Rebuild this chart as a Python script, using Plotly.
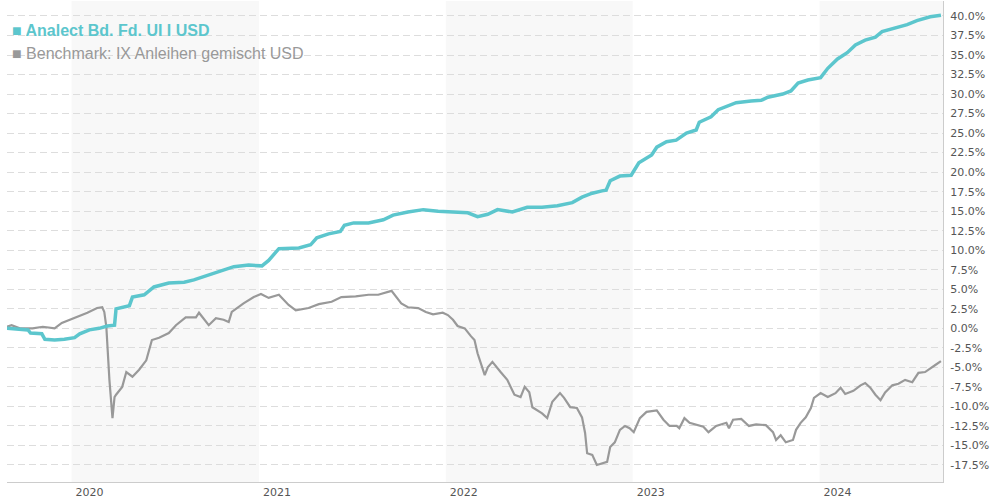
import plotly.graph_objects as go

# ---------------- data ----------------
fund_name = "Analect Bd. Fd. UI I USD"
bench_name = "Benchmark: IX Anleihen gemischt USD"

fund_dates = [
    "2019-08-28", "2019-09-22", "2019-10-08", "2019-10-13", "2019-11-04", "2019-11-10",
    "2019-11-29", "2019-12-18", "2020-01-07", "2020-01-17", "2020-02-05", "2020-02-24",
    "2020-03-11", "2020-03-25", "2020-03-28", "2020-04-23", "2020-04-29", "2020-05-22",
    "2020-06-10", "2020-07-09", "2020-08-08", "2020-08-27", "2020-09-15", "2020-10-09",
    "2020-11-13", "2020-12-12", "2021-01-07", "2021-01-20", "2021-02-09", "2021-03-20",
    "2021-04-12", "2021-04-24", "2021-05-17", "2021-06-09", "2021-06-17", "2021-07-05",
    "2021-08-03", "2021-09-01", "2021-09-20", "2021-10-19", "2021-11-18", "2021-12-17",
    "2022-01-15", "2022-02-13", "2022-03-04", "2022-03-24", "2022-04-12", "2022-05-11",
    "2022-06-09", "2022-07-08", "2022-08-07", "2022-09-05", "2022-09-24", "2022-10-14",
    "2022-11-02", "2022-11-10", "2022-11-18", "2022-12-07", "2022-12-29", "2023-01-13",
    "2023-02-07", "2023-02-17", "2023-03-08", "2023-03-27", "2023-04-16", "2023-05-05",
    "2023-05-11", "2023-06-03", "2023-06-17", "2023-07-08", "2023-07-22", "2023-08-20",
    "2023-09-09", "2023-09-22", "2023-10-21", "2023-11-06", "2023-11-20", "2023-12-09",
    "2024-01-03", "2024-01-17", "2024-02-05", "2024-02-24", "2024-03-11", "2024-03-30",
    "2024-04-19", "2024-05-02", "2024-05-28", "2024-06-20", "2024-07-09", "2024-08-04",
    "2024-08-25",
]
fund_values = [
    0.0, -0.1, -0.2, -0.6, -0.7, -1.4,
    -1.5, -1.4, -1.2, -0.7, -0.2, 0.0,
    0.3, 0.4, 2.5, 2.9, 4.0, 4.3,
    5.3, 5.8, 5.9, 6.2, 6.6, 7.2,
    7.9, 8.1, 8.0, 8.7, 10.2, 10.3,
    10.7, 11.6, 12.1, 12.4, 13.2, 13.5,
    13.5, 13.9, 14.5, 14.9, 15.2, 15.0,
    14.9, 14.8, 14.3, 14.6, 15.2, 14.9,
    15.5, 15.5, 15.7, 16.1, 16.8, 17.3,
    17.6, 17.7, 18.9, 19.5, 19.6, 21.2,
    22.2, 23.2, 23.9, 24.1, 25.0, 25.4,
    26.4, 27.1, 28.0, 28.5, 28.9, 29.1,
    29.2, 29.6, 30.0, 30.4, 31.4, 31.8,
    32.1, 33.3, 34.5, 35.3, 36.3, 36.9,
    37.3, 38.0, 38.5, 38.9, 39.4, 39.9,
    40.1,
]

bench_dates = [
    "2019-08-28", "2019-09-06", "2019-09-22", "2019-10-17", "2019-11-06", "2019-11-29",
    "2019-12-13", "2020-01-07", "2020-02-01", "2020-02-20", "2020-03-01", "2020-03-05",
    "2020-03-09", "2020-03-15", "2020-03-21", "2020-03-25", "2020-03-28", "2020-04-09",
    "2020-04-17", "2020-04-29", "2020-05-12", "2020-05-26", "2020-06-06", "2020-06-20",
    "2020-07-09", "2020-07-23", "2020-08-11", "2020-08-31", "2020-09-06", "2020-09-25",
    "2020-10-09", "2020-10-24", "2020-11-03", "2020-11-09", "2020-12-02", "2020-12-22",
    "2021-01-05", "2021-01-20", "2021-02-09", "2021-02-28", "2021-03-14", "2021-04-08",
    "2021-04-28", "2021-05-23", "2021-06-11", "2021-07-09", "2021-08-03", "2021-08-22",
    "2021-09-17", "2021-10-06", "2021-10-19", "2021-11-08", "2021-11-23", "2021-12-07",
    "2021-12-26", "2022-01-05", "2022-01-15", "2022-01-24", "2022-02-07", "2022-02-19",
    "2022-02-26", "2022-03-04", "2022-03-14", "2022-03-18", "2022-03-24", "2022-04-02",
    "2022-04-18", "2022-05-01", "2022-05-15", "2022-05-27", "2022-06-04", "2022-06-13",
    "2022-06-19", "2022-07-08", "2022-07-18", "2022-07-28", "2022-08-12", "2022-08-20",
    "2022-09-01", "2022-09-14", "2022-09-24", "2022-09-30", "2022-10-04", "2022-10-14",
    "2022-10-23", "2022-11-02", "2022-11-12", "2022-11-18", "2022-11-27", "2022-12-07",
    "2022-12-17", "2022-12-26", "2023-01-03", "2023-01-15", "2023-01-28", "2023-02-17",
    "2023-03-02", "2023-03-14", "2023-03-28", "2023-04-02", "2023-04-12", "2023-04-22",
    "2023-05-05", "2023-05-19", "2023-05-29", "2023-06-13", "2023-07-03", "2023-07-08",
    "2023-07-16", "2023-08-01", "2023-08-16", "2023-08-30", "2023-09-18", "2023-10-02",
    "2023-10-08", "2023-10-17", "2023-10-27", "2023-11-10", "2023-11-16", "2023-11-25",
    "2023-12-05", "2023-12-15", "2023-12-21", "2024-01-03", "2024-01-17", "2024-02-01",
    "2024-02-11", "2024-02-20", "2024-03-07", "2024-03-21", "2024-03-30", "2024-04-09",
    "2024-04-19", "2024-04-29", "2024-05-08", "2024-05-22", "2024-06-03", "2024-06-16",
    "2024-06-30", "2024-07-12", "2024-07-25", "2024-08-04", "2024-08-14", "2024-08-25",
]
bench_values = [
    0.2, 0.4, 0.0, 0.0, 0.2, 0.0,
    0.7, 1.3, 2.0, 2.6, 2.7, 2.1,
    0.2, -6.6, -11.5, -8.8, -8.5, -7.5,
    -5.6, -6.2, -5.3, -4.1, -1.5, -1.2,
    -0.6, 0.4, 1.4, 1.4, 2.0, 0.4,
    1.3, 1.1, 0.8, 2.1, 3.2, 4.0,
    4.4, 3.9, 4.3, 3.0, 2.3, 2.6,
    3.1, 3.4, 4.0, 4.1, 4.3, 4.3,
    4.8, 3.2, 2.7, 2.6, 2.1, 1.8,
    2.0, 1.7, 1.1, 0.3, 0.0, -1.0,
    -1.5, -3.2, -5.1, -6.0, -5.0, -4.3,
    -5.6, -6.6, -8.5, -8.8, -7.5, -8.2,
    -10.1, -10.9, -11.5, -9.4, -8.3, -8.9,
    -10.1, -10.2, -11.4, -13.4, -16.0, -16.2,
    -17.5, -17.3, -17.1, -15.2, -14.6, -13.0,
    -12.5, -12.8, -13.3, -11.5, -10.7, -10.5,
    -11.7, -12.5, -12.5, -12.8, -11.5, -12.1,
    -12.3, -12.6, -13.3, -12.5, -12.1, -12.8,
    -11.7, -11.6, -12.5, -12.3, -12.4, -13.3,
    -14.3, -13.7, -14.6, -14.3, -13.0, -12.1,
    -11.4, -10.2, -8.9, -8.3, -8.8, -8.3,
    -7.6, -8.4, -8.0, -7.3, -7.0, -7.6,
    -8.5, -9.2, -8.2, -7.3, -7.1, -6.6,
    -6.9, -5.7, -5.6, -5.2, -4.7, -4.2,
]

year_ticks = ["2020-01-01", "2021-01-01", "2022-01-01", "2023-01-01", "2024-01-01"]
year_labels = ["2020", "2021", "2022", "2023", "2024"]
shaded_years = [2020, 2022, 2024]

y_tick_values = [40.0, 37.5, 35.0, 32.5, 30.0, 27.5, 25.0, 22.5, 20.0, 17.5, 15.0, 12.5,
                 10.0, 7.5, 5.0, 2.5, 0.0, -2.5, -5.0, -7.5, -10.0, -12.5, -15.0, -17.5]
y_tick_labels = ["40.0%", "37.5%", "35.0%", "32.5%", "30.0%", "27.5%", "25.0%", "22.5%",
                 "20.0%", "17.5%", "15.0%", "12.5%", "10.0%", "7.5%", "5.0%", "2.5%",
                 "0.0%", "-2.5%", "-5.0%", "-7.5%", "-10.0%", "-12.5%", "-15.0%", "-17.5%"]

# ---------------- style ----------------
FUND_COLOR = "#5cc6cd"
BENCH_COLOR = "#999999"
LABEL_COLOR = "#555555"

fig = go.Figure()

fig.add_trace(go.Scatter(
    x=bench_dates, y=bench_values, mode="lines", name=bench_name,
    line=dict(color=BENCH_COLOR, width=2.2), showlegend=False, hoverinfo="skip",
))
fig.add_trace(go.Scatter(
    x=fund_dates, y=fund_values, mode="lines", name=fund_name,
    line=dict(color=FUND_COLOR, width=3.5), showlegend=False, hoverinfo="skip",
))

shapes = []
for yr in shaded_years:
    shapes.append(dict(
        type="rect", xref="x", yref="paper",
        x0=f"{yr}-01-01", x1=f"{yr + 1}-01-01", y0=0, y1=1,
        fillcolor="#f8f8f8", line=dict(width=0), layer="below",
    ))

annotations = [
    dict(xref="paper", yref="paper", x=0, y=1, xshift=3, yshift=-29,
         xanchor="left", yanchor="middle", showarrow=False,
         text=f"<b>■ {fund_name}</b>",
         font=dict(family="Liberation Sans, Arial", size=16, color=FUND_COLOR)),
    dict(xref="paper", yref="paper", x=0, y=1, xshift=3, yshift=-52,
         xanchor="left", yanchor="middle", showarrow=False,
         text=f"■ {bench_name}",
         font=dict(family="Liberation Sans, Arial", size=16, color=BENCH_COLOR)),
]

fig.update_layout(
    width=990, height=500,
    margin=dict(l=7, r=42, t=1, b=18, pad=0),
    paper_bgcolor="white", plot_bgcolor="white",
    shapes=shapes, annotations=annotations,
    showlegend=False,
    xaxis=dict(
        range=["2019-08-28", "2024-08-29"],
        tickvals=year_ticks, ticktext=year_labels,
        ticklabelshift=18, ticks="", showgrid=False, zeroline=False,
        showline=True, linecolor="#cccccc", linewidth=1,
        tickfont=dict(family="DejaVu Sans, Verdana", size=11, color=LABEL_COLOR),
    ),
    yaxis=dict(
        side="right", range=[-19.68, 41.92],
        tickvals=y_tick_values, ticktext=y_tick_labels,
        ticks="", showgrid=True, gridcolor="#dddddd", griddash="7px,4px", gridwidth=1,
        zeroline=False, showline=True, linecolor="#cccccc", linewidth=1,
        ticklabelstandoff=4,
        tickfont=dict(family="DejaVu Sans, Verdana", size=11, color=LABEL_COLOR),
    ),
)

fig.write_html("out.html", config={"displayModeBar": False},
               post_script="document.body.style.margin='0';")
